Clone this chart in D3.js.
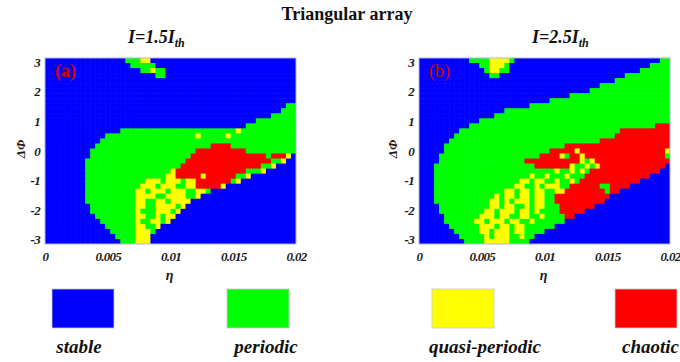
<!DOCTYPE html>
<html>
<head>
<meta charset="utf-8">
<script src="https://cdn.jsdelivr.net/npm/d3@7"></script>
<style>
  html, body { margin: 0; padding: 0; background: #fff; }
  svg { display: block; }
  text { font-family: "Liberation Serif", "Times New Roman", serif; }
</style>
</head>
<body>
<svg id="chart" width="680" height="362"></svg>
<script>
// Axis ticks
const etaTicks = [0, 0.005, 0.01, 0.015, 0.02];
const etaTickLabels = ["0", "0.005", "0.01", "0.015", "0.02"];
const phiTicks = [3, 2, 1, 0, -1, -2, -3];
const phiTickLabels = ["3", "2", "1", "0", "-1", "-2", "-3"];

// Dynamical regimes (code letter used in the maps below)
const regimeCodes = ["B", "G", "Y", "R"];
const regimeNames = ["stable", "periodic", "quasi-periodic", "chaotic"];
const regimeColors = ["#0000ff", "#00ff00", "#ffff00", "#ff0000"];

// Parameter grid: 50 columns of η over [0, 0.02], 37 rows of ΔΦ over [-π, π]
const etaRange = [0, 0.02];
const phiRange = [-Math.PI, Math.PI];
const nEta = 50;
const nPhi = 37;

// Regime maps: one run-length string per ΔΦ row, top row (ΔΦ = π) first
const mapA = [
  "B16G3Y2B29",
  "B17G5B28",
  "B19G2Y1G2B26",
  "B22G2B26",
  "B50",
  "B50",
  "B50",
  "B50",
  "B50",
  "B48G2",
  "B47G3",
  "B45G5",
  "B42G8",
  "B40G10",
  "B15G23Y1G11",
  "B12G18Y1G5Y1G13",
  "B11G39",
  "B10G23R4G13",
  "B9G21R10G10",
  "B9G20R15G1R3Y1B1",
  "B8G20R17G2Y1B2",
  "B8G19R16G2Y1B4",
  "B8G17Y1R14G3Y1B6",
  "B8G16Y2R5Y1R6G2Y1B9",
  "B8G12Y3G1Y3G1Y2R7G1Y1B11",
  "B8G11Y3G1Y3G2Y2R5Y1B14",
  "B8G10Y2G1Y3G1Y3G2Y2G1B17",
  "B8G10Y4G2Y4G2Y1B19",
  "B8G10Y2G2Y2G1Y4B21",
  "B9G9Y2G2Y4G1Y1B22",
  "B9G9Y1G3Y3G1Y1B23",
  "B10G8Y2G2Y1G1Y2B24",
  "B11G7Y1G2Y2G1Y1B25",
  "B12G6Y2G2Y1B27",
  "B13G5Y3G1B28",
  "B14G4Y3B29",
  "B15G3Y3B29"
];

const mapB = [
  "B10G4Y4G1B29G2",
  "B12G2Y3G1B28G4",
  "B13G1Y2G2B26G6",
  "B14G2B25G9",
  "B39G11",
  "B36G14",
  "B34G16",
  "B30G20",
  "B26G24",
  "B22G28",
  "B17G33",
  "B15G35",
  "B12G38",
  "B10G37R3",
  "B8G32R10",
  "B7G32R11",
  "B6G30R14",
  "B5G24R21",
  "B5G21R5Y1R17Y1",
  "B4G20R4Y1G1R2Y1R16G1",
  "B4G17R11Y1G1Y1R15",
  "B3G20R7Y1G2Y1G1Y1R13B1",
  "B3G24Y1G2Y1G1Y1G1R14B2",
  "B3G19Y1G2Y1G3Y1G3R13B4",
  "B3G17Y2G1Y2G2Y1G2Y1G1R12B6",
  "B3G16Y2G2Y1G1Y3G2R6G2R4B8",
  "B3G14Y2G1Y2G1Y2G2Y2R8G1R2B10",
  "B3G12Y1G1Y2G1Y2G1Y2G2R11B12",
  "B3G11Y2G1Y1G1Y3G1Y2G2R10B13",
  "B4G10Y2G1Y2G2Y1G1Y2G3R7B15",
  "B4G9Y2G1Y3G1Y2G1Y1G4R5B17",
  "B5G7Y3G1Y2G2Y2G2Y1G4R2B19",
  "B5G6Y2G1Y3G1Y2G2Y1G6B21",
  "B6G6Y3G1Y2G1Y2G6B23",
  "B7G5Y2G1Y3G1Y2G4B25",
  "B8G5Y1G1Y3G2Y1G2B27",
  "B9G4Y5G4B28"
];

const panelCurrents = ["1.5", "2.5"];
const panelTags = ["(a)", "(b)"];

// ---------------------------------------------------------------
const svg = d3.select("#chart");
const FONT = '"Liberation Serif", "Times New Roman", serif';

// expand "B16G3..." into an array of regime indices
function decodeRow(s) {
  const out = [];
  s.replace(/([BGYR])(\d+)/g, (m, c, n) => {
    for (let i = 0; i < +n; i++) out.push(regimeCodes.indexOf(c));
    return m;
  });
  return out;
}

// soft edges between regimes; duplicate edge pixels so the frame stays sharp
const defs = svg.append("defs");
const soft = defs.append("filter").attr("id", "soft")
  .attr("x", 0).attr("y", 0).attr("width", 1).attr("height", 1);
soft.append("feGaussianBlur").attr("stdDeviation", 0.75).attr("edgeMode", "duplicate");

const panels = [
  { map: mapA, left: 45,  current: panelCurrents[0], tag: panelTags[0], tagWeight: "bold",   titleX: 128, phiLabelX: 25 },
  { map: mapB, left: 419, current: panelCurrents[1], tag: panelTags[1], tagWeight: "normal", titleX: 532, phiLabelX: 397 }
];
const plotTop = 58, plotW = 251, plotH = 186;

svg.append("text")
  .attr("x", 347).attr("y", 20)
  .attr("text-anchor", "middle")
  .attr("font-size", 18).attr("font-weight", "bold")
  .attr("fill", "#111")
  .text("Triangular array");

const dEta = (etaRange[1] - etaRange[0]) / nEta;
const dPhi = (phiRange[1] - phiRange[0]) / nPhi;

panels.forEach(p => {
  const x = d3.scaleLinear().domain(etaRange).range([p.left, p.left + plotW]);
  const y = d3.scaleLinear().domain(phiRange).range([plotTop + plotH, plotTop]);
  const color = d3.scaleOrdinal().domain(d3.range(regimeCodes.length)).range(regimeColors);

  const cells = [];
  p.map.forEach((row, r) => {
    decodeRow(row).forEach((v, c) => cells.push({ r, c, v }));
  });

  const cw = x(dEta) - x(0);
  const g = svg.append("g").attr("filter", "url(#soft)");
  g.selectAll("rect.cell").data(cells).join("rect")
    .attr("class", "cell")
    .attr("x", d => x(etaRange[0] + d.c * dEta))
    .attr("y", d => y(phiRange[1] - d.r * dPhi))
    .attr("width", d => (d.c === nEta - 1 ? cw : cw + 0.6))
    .attr("height", d => (y(phiRange[1] - (d.r + 1) * dPhi) - y(phiRange[1] - d.r * dPhi)) + (d.r === nPhi - 1 ? 0 : 0.6))
    .attr("fill", d => color(d.v));

  // frame
  svg.append("rect")
    .attr("x", x(etaRange[0])).attr("y", y(phiRange[1]))
    .attr("width", x(etaRange[1]) - x(etaRange[0]))
    .attr("height", y(phiRange[0]) - y(phiRange[1]))
    .attr("fill", "none").attr("stroke", "#b4b4dc").attr("stroke-width", 1);

  // axes
  const xAxis = svg.append("g")
    .attr("transform", `translate(0,${plotTop + plotH})`)
    .call(d3.axisBottom(x).tickValues(etaTicks).tickSize(0).tickPadding(8)
      .tickFormat((d, i) => etaTickLabels[i]));
  const yAxis = svg.append("g")
    .attr("transform", `translate(${p.left},0)`)
    .call(d3.axisLeft(y).tickValues(phiTicks).tickSize(0).tickPadding(5)
      .tickFormat((d, i) => phiTickLabels[i]));
  [xAxis, yAxis].forEach(a => {
    a.select(".domain").remove();
    a.selectAll("text")
      .attr("font-family", FONT)
      .attr("font-size", 13)
      .attr("font-weight", "bold")
      .attr("font-style", "italic")
      .attr("letter-spacing", -0.7)
      .attr("fill", "#1a1a1a");
  });

  // axis titles
  svg.append("text")
    .attr("x", (x(etaRange[0]) + x(etaRange[1])) / 2 - 1).attr("y", 280)
    .attr("text-anchor", "middle")
    .attr("font-size", 14).attr("font-weight", "bold").attr("font-style", "italic")
    .attr("fill", "#1a1a1a")
    .text("η");
  svg.append("text")
    .attr("transform", `translate(${p.phiLabelX},${y(0) - 2}) rotate(-90)`)
    .attr("text-anchor", "middle")
    .attr("font-size", 13).attr("font-weight", "bold").attr("font-style", "italic")
    .attr("fill", "#1a1a1a")
    .text("ΔΦ");

  // panel title I = k·I_th
  const t = svg.append("text")
    .attr("x", p.titleX).attr("y", 43)
    .attr("font-size", 18).attr("font-weight", "bold").attr("font-style", "italic")
    .attr("fill", "#111");
  t.append("tspan").text("I=" + p.current + "I");
  t.append("tspan").attr("font-size", 12).attr("dy", 4).text("th");

  // panel tag
  svg.append("text")
    .attr("x", p.left + 10).attr("y", 77)
    .attr("font-size", 18).attr("font-weight", p.tagWeight)
    .attr("fill", "#d40000")
    .text(p.tag);
});

// legend
const legendBoxX = [52, 227, 432, 615];
const legendTextX = [79, 266, 485, 679];
const legendAnchor = ["middle", "middle", "middle", "end"];
const legend = svg.append("g");
regimeNames.forEach((name, i) => {
  legend.append("rect")
    .attr("x", legendBoxX[i]).attr("y", 289)
    .attr("width", 62).attr("height", 39)
    .attr("fill", regimeColors[i])
    .attr("stroke", "#c8c8c8").attr("stroke-width", 0.8);
  legend.append("text")
    .attr("x", legendTextX[i]).attr("y", 353)
    .attr("text-anchor", legendAnchor[i])
    .attr("font-size", 19).attr("font-weight", "bold").attr("font-style", "italic")
    .attr("fill", "#111")
    .text(name);
});
</script>
</body>
</html>
